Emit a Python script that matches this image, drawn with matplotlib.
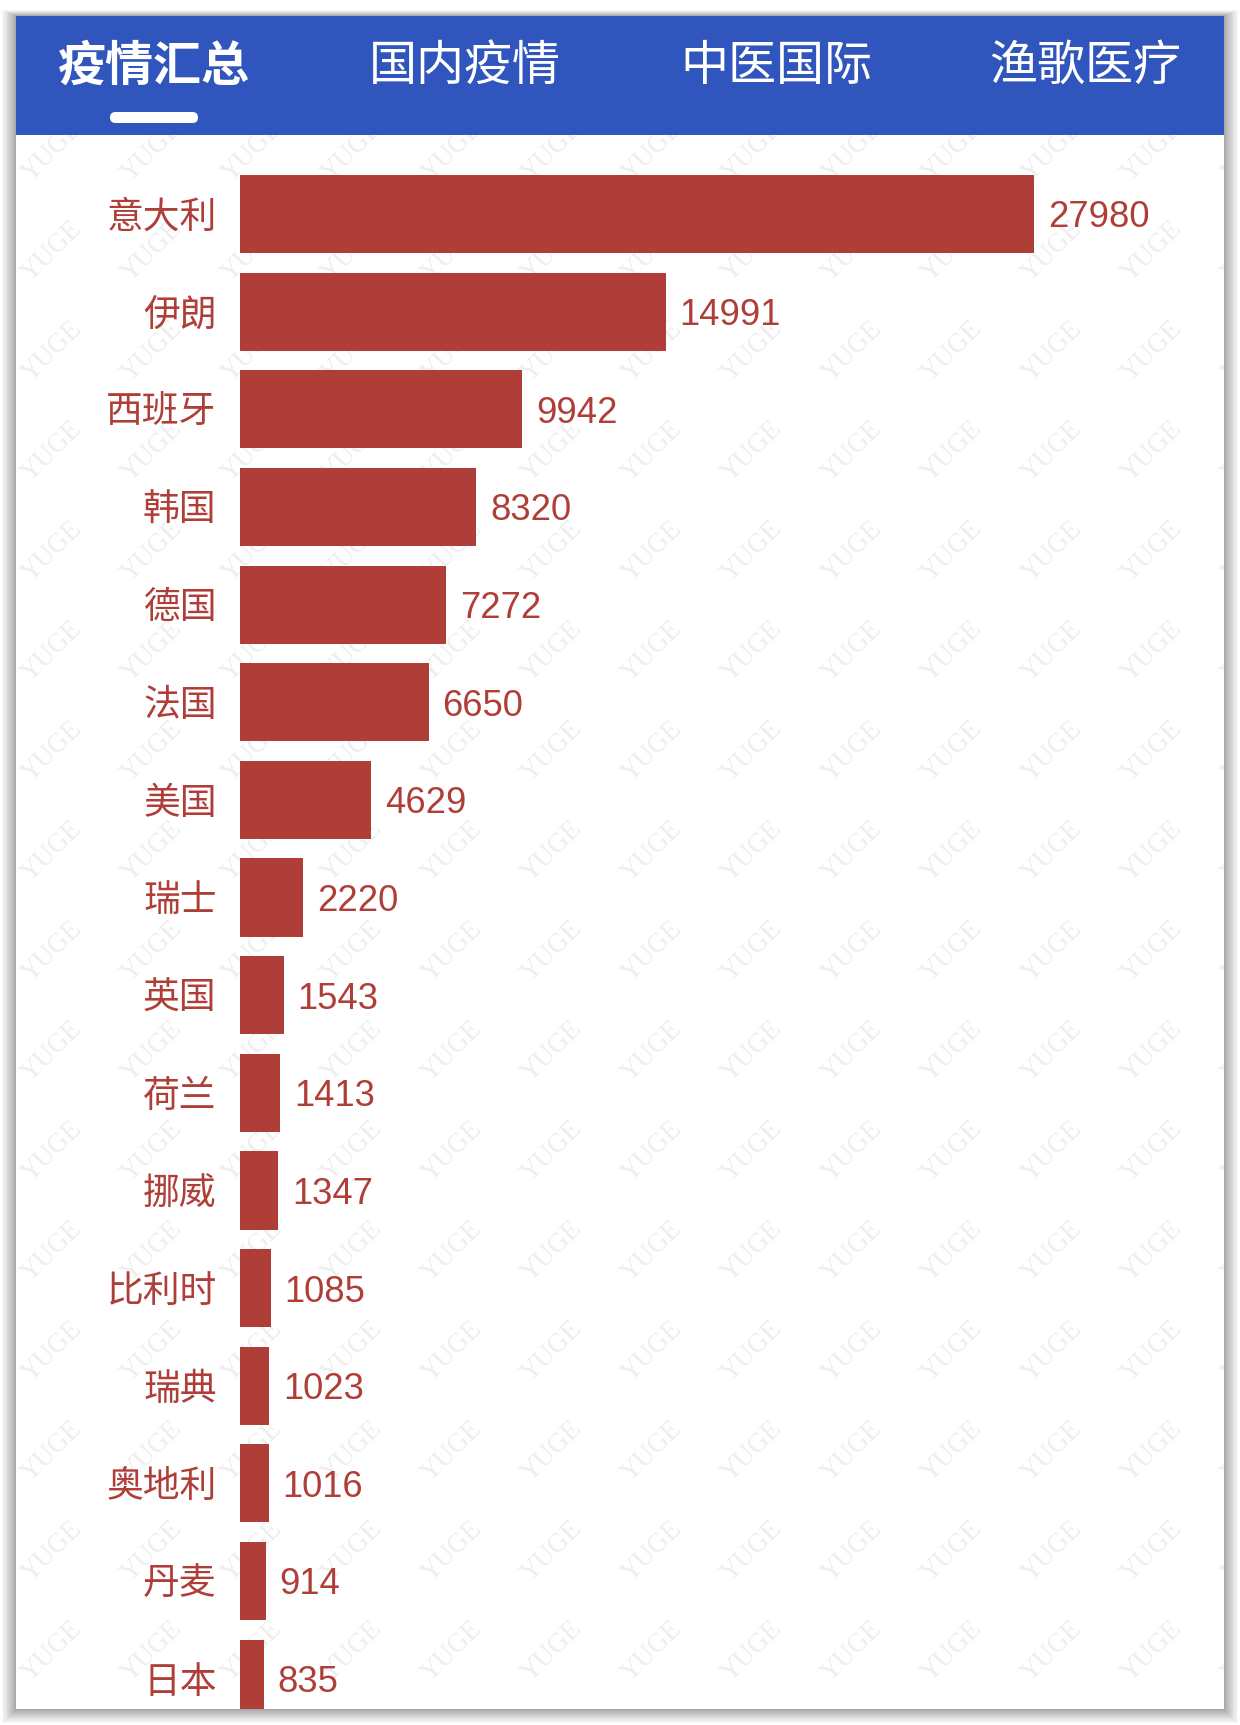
import matplotlib
matplotlib.use("Agg")
import matplotlib.pyplot as plt
from matplotlib.patches import Rectangle, FancyBboxPatch
from matplotlib.transforms import ScaledTranslation

countries = ["意大利", "伊朗", "西班牙", "韩国", "德国", "法国", "美国", "瑞士",
             "英国", "荷兰", "挪威", "比利时", "瑞典", "奥地利", "丹麦", "日本"]
cases = [27980, 14991, 9942, 8320, 7272, 6650, 4629, 2220,
         1543, 1413, 1347, 1085, 1023, 1016, 914, 835]
tabs = ["疫情汇总", "国内疫情", "中医国际", "渔歌医疗"]

W, H = 1240, 1725
RED = "#B03E38"
BLUE = "#3056BD"
CJK = ["Noto Sans CJK SC", "DejaVu Sans"]

fig = plt.figure(figsize=(W / 100, H / 100), dpi=100, facecolor="white")

# page layer, in pixel coordinates
bg = fig.add_axes([0, 0, 1, 1])
bg.set_xlim(0, W)
bg.set_ylim(H, 0)
bg.axis("off")

# soft shadow around the card
steps = 14
for k in range(steps, 0, -1):
    grow = 14 * (k / steps) ** 1.2
    bg.add_patch(Rectangle((16 - grow, 16 - grow * 0.4), 1208 + 2 * grow, 1693 + grow * 1.4,
                           fc="black", ec="none", alpha=0.026))

card = Rectangle((16, 16), 1208, 1693, fc="white", ec="none", zorder=1)
bg.add_patch(card)

# watermark
for row in range(16):
    for col in range(13):
        t = bg.text(52 + col * 100, 151 + row * 100, "YUGE", rotation=45,
                    ha="center", va="center", fontsize=19.2, color="#EDEDED",
                    family="Liberation Serif", zorder=2, clip_on=True)
        t.set_clip_path(card)

# header
bg.add_patch(Rectangle((16, 16), 1208, 119, fc=BLUE, ec="none", zorder=3))
tab_x = [154, 465, 776, 1085]
for i, (name, x) in enumerate(zip(tabs, tab_x)):
    bg.text(x, 66, name, ha="center", va="center", color="white", fontsize=34.6,
            family=CJK, fontweight="bold" if i == 0 else "normal", zorder=4)
bg.add_patch(FancyBboxPatch((110, 112), 88, 11, boxstyle="round,pad=0,rounding_size=5.5",
                            fc="white", ec="none", mutation_aspect=1, zorder=4))

# bars
ax = fig.add_axes([240 / W, 1 - 1709 / H, (1224 - 240) / W, (1709 - 135) / H])
ax.patch.set_alpha(0)
y = list(range(len(countries)))
ax.barh(y, cases, height=0.8, color=RED, linewidth=0)
ax.set_xlim(0, 984 / 0.02839)
ax.set_ylim(15.31, -0.809)
ax.set_xticks([])
ax.set_yticks(y)
ax.set_yticklabels(countries, family=CJK, fontsize=26.5, color=RED)
ax.tick_params(axis="y", length=0, pad=16.9)
nudge = ScaledTranslation(0, 0.8 / 72, fig.dpi_scale_trans)
for lab in ax.get_yticklabels():
    lab.set_transform(lab.get_transform() + nudge)
for s in ax.spines.values():
    s.set_visible(False)

for i, v in zip(y, cases):
    ax.annotate(str(v), (v, i), xytext=(9.9, -2.8), textcoords="offset points",
                va="center", ha="left", fontsize=26.2, color=RED,
                family="Liberation Sans", annotation_clip=False)

fig.savefig("out.png", dpi=100)
